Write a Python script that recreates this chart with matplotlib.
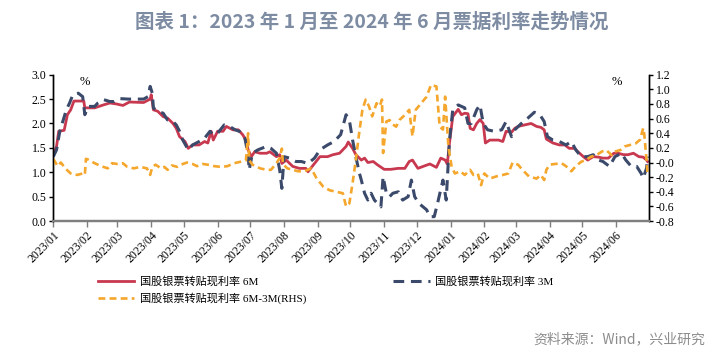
import numpy as np
import pandas as pd
import matplotlib
matplotlib.use('Agg')
import matplotlib.pyplot as plt
import matplotlib.dates as mdates

# 国股银票转贴现利率 6M (left axis, %)
r_dates = ["2023-01-01","2023-01-04","2023-01-06","2023-01-11","2023-01-14","2023-01-17","2023-01-20","2023-01-29","2023-01-30","2023-02-08",
           "2023-02-16","2023-02-22","2023-02-28","2023-03-06","2023-03-12","2023-03-25","2023-03-31","2023-04-01","2023-04-03","2023-04-07",
           "2023-04-12","2023-04-16","2023-04-21","2023-04-24","2023-04-27","2023-05-02","2023-05-05","2023-05-09","2023-05-15","2023-05-20",
           "2023-05-23","2023-05-26","2023-05-28","2023-06-01","2023-06-06","2023-06-09","2023-06-15","2023-06-20","2023-06-24","2023-06-27",
           "2023-06-29","2023-07-02","2023-07-05","2023-07-10","2023-07-16","2023-07-19","2023-07-25","2023-07-28","2023-07-30","2023-08-03",
           "2023-08-09","2023-08-15","2023-08-21","2023-08-23","2023-08-29","2023-09-03","2023-09-10","2023-09-15","2023-09-21","2023-09-27",
           "2023-09-29","2023-10-03","2023-10-06","2023-10-11","2023-10-14","2023-10-17","2023-10-22","2023-10-26","2023-11-01","2023-11-07",
           "2023-11-14","2023-11-20","2023-11-24","2023-11-27","2023-12-02","2023-12-08","2023-12-13","2023-12-19","2023-12-23","2023-12-27",
           "2023-12-29","2023-12-31","2024-01-03","2024-01-08","2024-01-11","2024-01-14","2024-01-17","2024-01-19","2024-01-22","2024-01-25",
           "2024-01-28","2024-01-31","2024-02-02","2024-02-06","2024-02-14","2024-02-18","2024-02-21","2024-02-26","2024-02-29","2024-03-03",
           "2024-03-09","2024-03-15","2024-03-20","2024-03-24","2024-03-27","2024-03-29","2024-04-04","2024-04-10","2024-04-15","2024-04-19",
           "2024-04-24","2024-04-27","2024-05-02","2024-05-06","2024-05-11","2024-05-16","2024-05-20","2024-05-25","2024-05-30","2024-06-03",
           "2024-06-08","2024-06-12","2024-06-17","2024-06-22","2024-06-26","2024-06-29","2024-06-30"]
r_vals = [1.36,1.53,1.84,1.86,2.18,2.28,2.46,2.46,2.32,2.32,
          2.38,2.42,2.40,2.37,2.44,2.43,2.50,2.59,2.28,2.25,
          2.14,2.11,2.00,1.90,1.73,1.63,1.49,1.56,1.56,1.63,
          1.60,1.84,1.66,1.84,1.84,1.94,1.87,1.87,1.77,1.66,
          1.46,1.32,1.42,1.39,1.39,1.42,1.32,1.36,1.18,1.25,
          1.12,1.08,1.08,1.01,1.18,1.32,1.32,1.36,1.39,1.53,
          1.62,1.49,1.36,1.25,1.29,1.20,1.22,1.15,1.06,1.06,
          1.08,1.08,1.22,1.25,1.08,1.13,1.17,1.10,1.29,1.25,
          1.17,1.60,2.14,2.29,2.18,2.21,2.20,1.90,1.87,2.00,
          2.08,2.00,1.60,1.66,1.66,1.63,1.84,1.82,1.90,1.94,
          1.97,2.00,1.94,1.92,1.87,1.68,1.60,1.56,1.56,1.49,
          1.49,1.42,1.32,1.25,1.32,1.31,1.29,1.29,1.39,1.39,
          1.36,1.36,1.39,1.32,1.31,1.25,1.22]

# 国股银票转贴现利率 3M (left axis, %)
b_dates = ["2023-01-01","2023-01-04","2023-01-07","2023-01-13","2023-01-16","2023-01-19","2023-01-24","2023-01-28","2023-01-30","2023-02-02",
           "2023-02-08","2023-02-11","2023-02-16","2023-02-22","2023-02-26","2023-03-03","2023-03-11","2023-03-25","2023-03-29","2023-03-31",
           "2023-04-02","2023-04-03","2023-04-07","2023-04-12","2023-04-16","2023-04-21","2023-04-24","2023-04-27","2023-04-30","2023-05-05",
           "2023-05-09","2023-05-15","2023-05-20","2023-05-25","2023-05-28","2023-06-01","2023-06-07","2023-06-12","2023-06-17","2023-06-21",
           "2023-06-26","2023-06-29","2023-06-30","2023-07-03","2023-07-08","2023-07-16","2023-07-20","2023-07-25","2023-07-28","2023-07-30",
           "2023-08-01","2023-08-06","2023-08-12","2023-08-17","2023-08-23","2023-08-29","2023-09-03","2023-09-10","2023-09-16","2023-09-22",
           "2023-09-27","2023-09-30","2023-10-03","2023-10-06","2023-10-09","2023-10-11","2023-10-14","2023-10-17","2023-10-20","2023-10-23",
           "2023-10-26","2023-10-29","2023-10-31","2023-11-03","2023-11-06","2023-11-09","2023-11-14","2023-11-18","2023-11-23","2023-11-26",
           "2023-11-29","2023-12-03","2023-12-10","2023-12-13","2023-12-17","2023-12-20","2023-12-25","2023-12-28","2023-12-31","2024-01-03",
           "2024-01-08","2024-01-11","2024-01-14","2024-01-17","2024-01-20","2024-01-25","2024-01-28","2024-01-31","2024-02-04","2024-02-10",
           "2024-02-17","2024-02-21","2024-02-26","2024-02-29","2024-03-06","2024-03-12","2024-03-18","2024-03-23","2024-03-27","2024-03-30",
           "2024-04-04","2024-04-10","2024-04-16","2024-04-21","2024-04-25","2024-04-30","2024-05-06","2024-05-11","2024-05-16","2024-05-20",
           "2024-05-26","2024-05-31","2024-06-06","2024-06-10","2024-06-15","2024-06-20","2024-06-24","2024-06-26","2024-06-29","2024-06-30"]
b_vals = [1.32,1.46,1.84,2.28,2.42,2.59,2.62,2.55,2.18,2.35,
          2.35,2.42,2.49,2.45,2.45,2.51,2.50,2.50,2.55,2.76,
          2.62,2.32,2.25,2.21,2.07,2.04,1.97,1.84,1.66,1.46,
          1.56,1.63,1.70,1.84,1.77,1.80,1.97,1.94,1.87,1.84,
          1.70,1.36,1.05,1.39,1.46,1.53,1.49,1.39,1.05,0.67,
          1.32,1.29,1.22,1.22,1.18,1.29,1.46,1.56,1.63,1.77,
          2.18,2.07,1.66,1.32,1.00,0.84,0.57,0.43,0.57,0.43,
          0.36,0.29,0.91,0.57,0.50,0.57,0.60,0.43,0.50,0.84,
          0.50,0.36,0.23,0.09,0.09,0.36,0.84,0.43,1.66,2.28,
          2.38,2.35,2.32,2.00,2.00,2.28,2.38,2.00,1.87,1.84,
          1.87,2.04,1.73,1.87,2.00,2.11,2.23,2.18,2.04,1.73,
          1.66,1.63,1.56,1.63,1.46,1.32,1.32,1.36,1.25,1.22,
          1.12,1.32,1.39,1.25,1.12,1.12,0.98,0.88,1.08,1.32]

# 国股银票转贴现利率 6M-3M (right axis, %)
o_dates = ["2023-01-01","2023-01-03","2023-01-05","2023-01-08","2023-01-12","2023-01-17","2023-01-23","2023-01-28","2023-01-30","2023-01-31",
           "2023-02-02","2023-02-08","2023-02-14","2023-02-20","2023-02-24","2023-03-01","2023-03-06","2023-03-10","2023-03-16","2023-03-22",
           "2023-03-28","2023-03-31","2023-04-02","2023-04-05","2023-04-10","2023-04-13","2023-04-16","2023-04-20","2023-04-25","2023-04-30",
           "2023-05-04","2023-05-09","2023-05-13","2023-05-18","2023-05-23","2023-05-29","2023-06-04","2023-06-10","2023-06-16","2023-06-22",
           "2023-06-27","2023-06-29","2023-06-30","2023-07-03","2023-07-10","2023-07-16","2023-07-20","2023-07-25","2023-07-28","2023-07-30",
           "2023-07-31","2023-08-04","2023-08-09","2023-08-14","2023-08-19","2023-08-23","2023-08-26","2023-08-31","2023-09-06","2023-09-12",
           "2023-09-18","2023-09-24","2023-09-27","2023-09-30","2023-10-03","2023-10-06","2023-10-09","2023-10-12","2023-10-15","2023-10-18",
           "2023-10-21","2023-10-25","2023-10-28","2023-10-30","2023-10-31","2023-11-03","2023-11-06","2023-11-09","2023-11-12","2023-11-15",
           "2023-11-20","2023-11-24","2023-11-27","2023-11-30","2023-12-05","2023-12-10","2023-12-14","2023-12-19","2023-12-22","2023-12-25",
           "2023-12-27","2023-12-30","2024-01-02","2024-01-05","2024-01-10","2024-01-14","2024-01-19","2024-01-22","2024-01-26","2024-01-29",
           "2024-02-01","2024-02-06","2024-02-12","2024-02-18","2024-02-23","2024-02-27","2024-03-03","2024-03-07","2024-03-13","2024-03-20",
           "2024-03-24","2024-03-27","2024-03-29","2024-04-01","2024-04-06","2024-04-12","2024-04-16","2024-04-21","2024-04-25","2024-04-30",
           "2024-05-05","2024-05-09","2024-05-14","2024-05-19","2024-05-23","2024-05-28","2024-05-31","2024-06-05","2024-06-09","2024-06-14",
           "2024-06-19","2024-06-23","2024-06-26","2024-06-27","2024-06-29","2024-06-30"]
o_vals = [0.05,0.00,-0.05,0.00,-0.08,-0.15,-0.17,-0.15,-0.17,0.05,
          0.04,-0.01,-0.05,-0.08,-0.01,-0.02,-0.01,-0.06,-0.08,-0.06,
          -0.08,-0.17,-0.06,-0.03,-0.08,-0.06,-0.10,-0.04,-0.06,-0.02,
          0.00,-0.02,-0.05,-0.02,-0.03,-0.05,-0.06,-0.05,-0.01,0.01,
          0.03,0.40,0.03,-0.03,-0.08,-0.10,-0.10,-0.01,0.06,0.19,
          -0.02,-0.08,-0.10,-0.12,-0.12,-0.10,-0.08,-0.22,-0.33,-0.38,
          -0.40,-0.42,-0.60,-0.56,-0.28,0.04,0.40,0.72,0.86,0.77,
          0.63,0.81,0.77,0.86,0.13,0.56,0.58,0.52,0.49,0.58,
          0.65,0.72,0.36,0.72,0.81,0.90,1.06,1.04,0.49,0.45,
          0.90,0.22,-0.06,-0.15,-0.12,-0.17,-0.10,-0.17,-0.15,-0.31,
          -0.15,-0.22,-0.19,-0.17,-0.15,0.00,-0.03,-0.10,-0.19,-0.22,
          -0.17,-0.24,-0.10,-0.03,-0.02,-0.01,-0.05,-0.12,-0.05,0.01,
          0.04,0.08,0.10,0.15,0.17,0.10,0.15,0.17,0.22,0.24,
          0.26,0.31,0.47,0.38,0.04,-0.17]

lbl_6m = '国股银票转贴现利率 6M'
lbl_3m = '国股银票转贴现利率 3M'
lbl_sp = '国股银票转贴现利率 6M-3M(RHS)'

c_red = '#c8384f'
c_blue = '#3b4a6b'
c_orange = '#f4a72c'

serif = ['Liberation Serif', 'Noto Sans CJK SC']
plt.rcParams['font.family'] = serif

fig = plt.figure(figsize=(7.17, 3.6), dpi=100)
ax = fig.add_axes([0.0743, 0.386, 0.8304, 0.4065])
ax2 = ax.twinx()

l1, = ax.plot(pd.to_datetime(r_dates), r_vals, color=c_red, lw=2.0, label=lbl_6m)
l2, = ax.plot(pd.to_datetime(b_dates), b_vals, color=c_blue, lw=2.2, dashes=(3.5, 2.2), label=lbl_3m)
l3, = ax2.plot(pd.to_datetime(o_dates), o_vals, color=c_orange, lw=1.9, dashes=(2.6, 1.6), label=lbl_sp)

ax.set_xlim(pd.Timestamp('2023-01-01'), pd.Timestamp('2024-07-01'))
ax.set_ylim(0, 3.0)
ax.set_yticks(np.arange(0, 3.01, 0.5))
ax.yaxis.set_major_formatter(plt.FormatStrFormatter('%.1f'))
ax2.set_ylim(-0.8, 1.2)
ax2.set_yticks(np.arange(-0.8, 1.21, 0.2))
ax2.yaxis.set_major_formatter(plt.FormatStrFormatter('%.1f'))

ticks = pd.date_range('2023-01-01', '2024-06-01', freq='MS')
ax.set_xticks(ticks)
ax.set_xticklabels([t.strftime('%Y/%m') for t in ticks], rotation=45, ha='right',
                   rotation_mode='anchor', fontsize=8.5)
ax.tick_params(axis='x', length=4, width=1, color='#7f7f7f', pad=2)
ax.tick_params(axis='y', labelsize=8.5, length=3, width=1, pad=2)
ax2.tick_params(axis='y', labelsize=8.5, length=3, width=1, pad=2)

for a in (ax, ax2):
    a.spines['top'].set_visible(False)
    a.spines['bottom'].set_color('#7f7f7f')
    a.spines['bottom'].set_linewidth(1.6)
    a.spines['left'].set_linewidth(1.0)
    a.spines['right'].set_linewidth(1.0)

ax.text(0.045, 0.93, '%', transform=ax.transAxes, fontsize=9)
ax2.text(0.955, 0.93, '%', transform=ax.transAxes, fontsize=9, ha='right')

# column-major fill: red + orange in column 1, blue in column 2
fig.legend(handles=[l1, l3, l2], loc='upper left', bbox_to_anchor=(0.13, 0.245),
           ncol=2, frameon=False, handlelength=3.3, columnspacing=7.8,
           handletextpad=0.5, labelspacing=0.5, borderaxespad=0,
           prop={'family': serif, 'size': 8})

fig.text(0.519, 0.939, '图表 1：2023 年 1 月至 2024 年 6 月票据利率走势情况', ha='center', va='center',
         fontsize=14, fontweight='bold', color='#7d8ca2', family=['Noto Sans CJK SC', 'DejaVu Sans'])
fig.text(0.983, 0.058, '资料来源：Wind，兴业研究', ha='right', va='center', fontsize=10,
         color='#8c8c8c', family=['Noto Sans CJK SC', 'DejaVu Sans'])

fig.savefig('out.png', dpi=100)
